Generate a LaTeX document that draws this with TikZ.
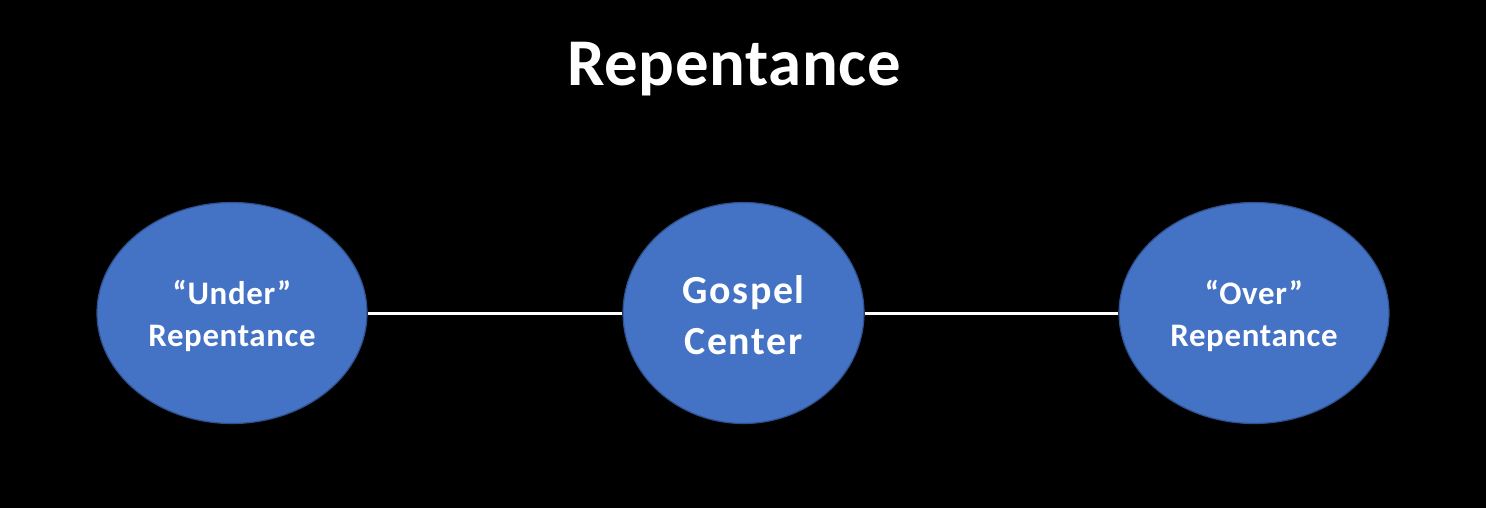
\documentclass[tikz,border=0pt]{standalone}
\usepackage{fontspec}
\setmainfont{Carlito}
\usetikzlibrary{shapes.geometric}
\definecolor{fillblue}{HTML}{4472C4}
\definecolor{edgeblue}{HTML}{2F528F}
\tikzset{
  bubble/.style={ellipse, fill=fillblue, draw=edgeblue, line width=1.2bp, inner sep=0pt},
  bubbletext/.style={text=white, align=center, inner sep=0pt},
  sidefont/.style={font=\bfseries\fontsize{33}{43}\selectfont\addfontfeatures{LetterSpace=2}},
  midfont/.style={font=\bfseries\fontsize{40}{51}\selectfont\addfontfeatures{LetterSpace=4}},
  link/.style={draw=white, line width=3bp}
}
\begin{document}
\begin{tikzpicture}[x=1bp,y=-1bp]
\useasboundingbox[fill=black] (0,0) rectangle (1486,508);
\node[text=white, font=\bfseries\fontsize{67}{72}\selectfont\addfontfeatures{LetterSpace=1}, anchor=base] (title) at (734,86) {Repentance};
\node[bubble, minimum width=270bp, minimum height=221bp] (under) at (232,313) {};
\node[bubble, minimum width=241bp, minimum height=221bp] (gospel) at (743.5,313) {};
\node[bubble, minimum width=270bp, minimum height=221bp] (over) at (1254,313) {};
\node[bubbletext, sidefont] (underlbl) at ([yshift=-3bp]under.center) {“Under”\\Repentance};
\node[bubbletext, midfont] (gospellbl) at ([yshift=-2bp]gospel.center) {Gospel\\Center};
\node[bubbletext, sidefont] (overlbl) at ([yshift=-3bp]over.center) {“Over”\\Repentance};
\draw[link] (under) -- (gospel);
\draw[link] (gospel) -- (over);
\end{tikzpicture}
\end{document}
